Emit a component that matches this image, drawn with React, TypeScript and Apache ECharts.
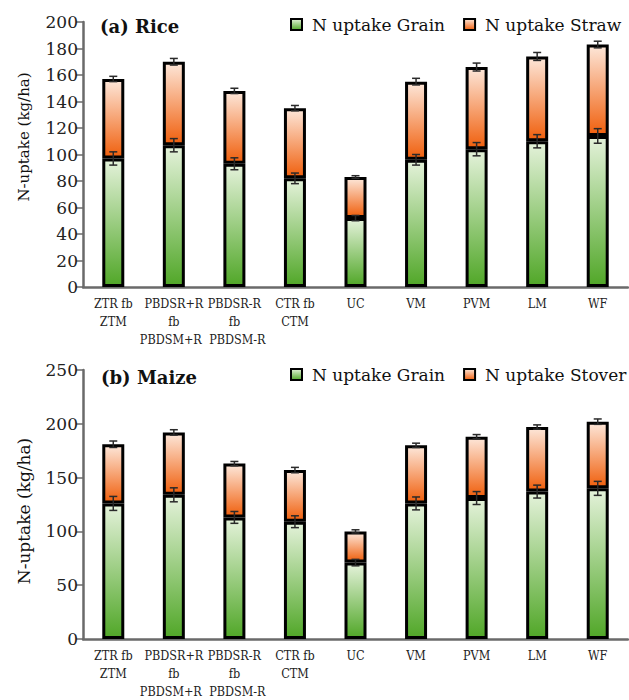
import React, { useEffect, useRef } from "react";
import * as echarts from "echarts";

const categories = [
  "ZTR fb\nZTM",
  "PBDSR+R\nfb\nPBDSM+R",
  "PBDSR-R\nfb\nPBDSM-R",
  "CTR fb\nCTM",
  "UC",
  "VM",
  "PVM",
  "LM",
  "WF",
];

const riceGrain = [97, 107, 93, 82, 52, 96, 104, 110, 114];
const riceTotal = [157, 170, 148, 135, 83, 155, 166, 174, 183];
const riceGrainErr = [5, 5, 4.5, 4, 2, 4, 5, 5, 5.5];
const riceTotalErr = [2, 2.5, 2, 2, 1, 2.5, 3, 3, 2.5];

const maizeGrain = [126, 134, 113, 109, 71, 126, 131, 137, 140];
const maizeTotal = [181, 192, 163, 157, 100, 180, 188, 197, 202];
const maizeGrainErr = [6.5, 6.5, 5.5, 5.5, 3, 6, 6, 6, 6.5];
const maizeTotalErr = [3, 2.5, 2, 2.5, 1.5, 2, 2, 2, 2.5];

const FONT = "DejaVu Serif";
const FONT_C = "DejaVu Serif Condensed, DejaVu Serif";

const greenGrad = {
  type: "linear",
  x: 0,
  y: 0,
  x2: 0,
  y2: 1,
  colorStops: [
    { offset: 0, color: "#e4f2da" },
    { offset: 1, color: "#51a728" },
  ],
};
const orangeGrad = {
  type: "linear",
  x: 0,
  y: 0,
  x2: 0,
  y2: 1,
  colorStops: [
    { offset: 0, color: "#fde6d8" },
    { offset: 1, color: "#f0600e" },
  ],
};

function errRender(params: any, api: any) {
  const x = api.value(0);
  const v = api.value(1);
  const e = api.value(2);
  const top = api.coord([x, v + e]);
  const bot = api.coord([x, v - e]);
  const hw = 4;
  const st = { stroke: "#2a2a2a", lineWidth: 1.5 };
  return {
    type: "group",
    children: [
      { type: "line", shape: { x1: top[0], y1: top[1], x2: bot[0], y2: bot[1] }, style: st },
      { type: "line", shape: { x1: top[0] - hw, y1: top[1], x2: top[0] + hw, y2: top[1] }, style: st },
      { type: "line", shape: { x1: bot[0] - hw, y1: bot[1], x2: bot[0] + hw, y2: bot[1] }, style: st },
    ],
  };
}

function labelFormatter(value: string, index: number) {
  const lines = value.split("\n");
  if (lines.length === 3 && (index === 1 || index === 2)) {
    const tag = index === 1 ? "l" : "r";
    lines[2] = `{${tag}|${lines[2]}}`;
  }
  return lines.join("\n");
}

export default function App() {
  const ref = useRef<HTMLDivElement>(null);
  useEffect(() => {
    if (!ref.current) return;
    const chart = echarts.init(ref.current, undefined, { renderer: "svg" });

    const riceStraw = riceTotal.map((t, i) => t - riceGrain[i]);
    const maizeStover = maizeTotal.map((t, i) => t - maizeGrain[i]);

    const axisLineStyle = { color: "#6a6a6a", width: 2.5 };
    const richBase = { fontFamily: FONT_C, fontSize: 12.5, lineHeight: 18, color: "#222" };

    const xAxisBase = {
      type: "category",
      data: categories,
      axisLine: { lineStyle: axisLineStyle },
      axisTick: { show: false },
      axisLabel: {
        interval: 0,
        fontFamily: FONT_C,
        fontSize: 12.5,
        lineHeight: 18,
        color: "#222",
        margin: 7,
        formatter: labelFormatter,
        rich: {
          l: { ...richBase, padding: [0, 6, 0, 0] },
          r: { ...richBase, padding: [0, 0, 0, 6] },
        },
      },
      splitLine: { show: false },
    };
    const yAxisBase = {
      type: "value",
      min: 0,
      axisLine: { show: true, lineStyle: axisLineStyle },
      axisTick: { show: true, length: 7, lineStyle: { color: "#6a6a6a", width: 1.5 } },
      axisLabel: { fontFamily: FONT, fontSize: 17, color: "#222", margin: 5 },
      splitLine: { show: false },
    };

    const barStyle = (c: any) => ({ color: c, borderColor: "#000", borderWidth: 3 });

    const legendBase = {
      itemWidth: 11,
      itemHeight: 11,
      itemGap: 18,
      icon: "rect",
      padding: 0,
      width: 339,
      itemStyle: { borderColor: "#000", borderWidth: 2 },
      textStyle: { fontFamily: FONT, fontSize: 17, color: "#111", padding: [0, 0, 0, 5] },
      selectedMode: false,
    };

    chart.setOption({
      animation: false,
      backgroundColor: "#fff",
      textStyle: { fontFamily: FONT },
      grid: [
        { left: 83, top: 22, width: 545, height: 265 },
        { left: 83, top: 370, width: 545, height: 270 },
      ],
      legend: [
        { ...legendBase, left: 290, top: 16, data: ["N uptake Grain", "N uptake Straw"] },
        { ...legendBase, left: 290, top: 366, data: ["N uptake Grain", "N uptake Stover"] },
      ],
      xAxis: [
        { ...xAxisBase, gridIndex: 0 },
        { ...xAxisBase, gridIndex: 1 },
      ],
      yAxis: [
        { ...yAxisBase, gridIndex: 0, max: 200, interval: 20 },
        { ...yAxisBase, gridIndex: 1, max: 250, interval: 50 },
      ],
      graphic: [
        {
          type: "text",
          x: 100,
          y: 26,
          style: { text: "(a) Rice", fontFamily: FONT, fontSize: 18, fontWeight: "bold", fill: "#111", textVerticalAlign: "middle" },
        },
        {
          type: "text",
          x: 101,
          y: 377,
          style: { text: "(b) Maize", fontFamily: FONT, fontSize: 18, fontWeight: "bold", fill: "#111", textVerticalAlign: "middle" },
        },
        {
          type: "text",
          x: 24,
          y: 137,
          rotation: Math.PI / 2,
          style: {
            text: "N-uptake (kg/ha)",
            fontFamily: FONT,
            fontSize: 15,
            fill: "#111",
            textAlign: "center",
            textVerticalAlign: "middle",
          },
        },
        {
          type: "text",
          x: 24,
          y: 511,
          rotation: Math.PI / 2,
          style: {
            text: "N-uptake (kg/ha)",
            fontFamily: FONT,
            fontSize: 17,
            fill: "#111",
            textAlign: "center",
            textVerticalAlign: "middle",
          },
        },
      ],
      series: [
        {
          name: "N uptake Grain",
          type: "bar",
          stack: "rice",
          xAxisIndex: 0,
          yAxisIndex: 0,
          barWidth: 22,
          data: riceGrain,
          itemStyle: barStyle(greenGrad),
        },
        {
          name: "N uptake Straw",
          type: "bar",
          stack: "rice",
          xAxisIndex: 0,
          yAxisIndex: 0,
          barWidth: 22,
          data: riceStraw,
          itemStyle: barStyle(orangeGrad),
        },
        {
          type: "custom",
          xAxisIndex: 0,
          yAxisIndex: 0,
          renderItem: errRender,
          encode: { x: 0, y: 1 },
          z: 10,
          data: riceGrain.map((v, i) => [i, v, riceGrainErr[i]]),
        },
        {
          type: "custom",
          xAxisIndex: 0,
          yAxisIndex: 0,
          renderItem: errRender,
          encode: { x: 0, y: 1 },
          z: 10,
          data: riceTotal.map((v, i) => [i, v, riceTotalErr[i]]),
        },
        {
          name: "N uptake Grain",
          type: "bar",
          stack: "maize",
          xAxisIndex: 1,
          yAxisIndex: 1,
          barWidth: 22,
          data: maizeGrain,
          itemStyle: barStyle(greenGrad),
        },
        {
          name: "N uptake Stover",
          type: "bar",
          stack: "maize",
          xAxisIndex: 1,
          yAxisIndex: 1,
          barWidth: 22,
          data: maizeStover,
          itemStyle: barStyle(orangeGrad),
        },
        {
          type: "custom",
          xAxisIndex: 1,
          yAxisIndex: 1,
          renderItem: errRender,
          encode: { x: 0, y: 1 },
          z: 10,
          data: maizeGrain.map((v, i) => [i, v, maizeGrainErr[i]]),
        },
        {
          type: "custom",
          xAxisIndex: 1,
          yAxisIndex: 1,
          renderItem: errRender,
          encode: { x: 0, y: 1 },
          z: 10,
          data: maizeTotal.map((v, i) => [i, v, maizeTotalErr[i]]),
        },
      ],
    });
    return () => chart.dispose();
  }, []);

  return (
    <div
      ref={ref}
      style={{ position: "absolute", left: 0, top: 0, width: 629, height: 700, background: "#fff" }}
    />
  );
}
